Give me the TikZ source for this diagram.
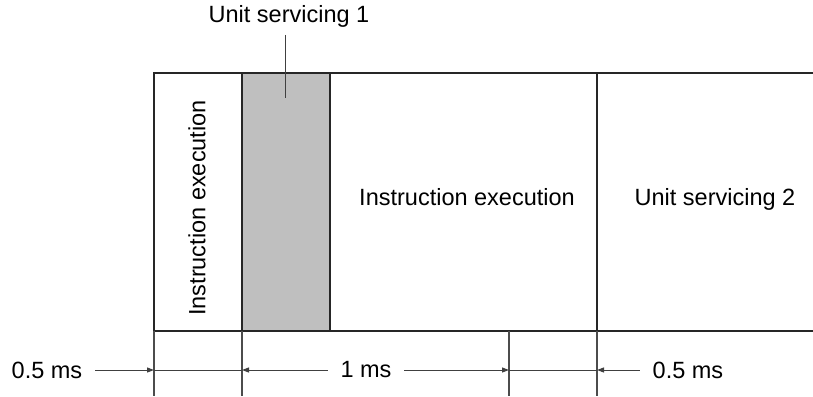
\documentclass[tikz,border=0pt]{standalone}
\usepackage{fontspec}
\setmainfont{Liberation Sans}
\usetikzlibrary{arrows.meta, positioning}

\begin{document}
\begin{tikzpicture}[x=1pt, y=-1pt, >={Triangle[length=7pt,width=5pt]}, line width=1.5pt]

\tikzstyle{frame} = [draw=black!85, line width=1.6pt]
\tikzstyle{extline} = [draw=black!70, line width=1.3pt]
\tikzstyle{dimline} = [draw=black!75, line width=1pt]
\tikzstyle{txt} = [inner sep=0pt, font=\fontsize{23.5}{28}\selectfont]
\tikzstyle{dimlabel} = [txt, outer xsep=13pt]

\useasboundingbox (0,0) rectangle (813,396);

\fill[gray!50] (242,73) rectangle (330,331);
\draw[frame] (813,73) -- (154,73) -- (154,331) -- (813,331);
\draw[frame] (242,73) -- (242,331);
\draw[frame] (330,73) -- (330,331);
\draw[frame] (597,73) -- (597,331);

\coordinate (t0) at (154,370);
\coordinate (t1) at (242,370);
\coordinate (t2) at (509,370);
\coordinate (t3) at (597,370);
\foreach \x in {154,242,509,597}
  \draw[extline] (\x,331) -- (\x,396);

\node (exec1) [txt, rotate=90] at (197,208) {Instruction execution};
\node (exec2) [txt, anchor=base] at (467,205) {Instruction execution};
\node (serv2) [txt, anchor=base] at (715,205) {Unit servicing 2};
\node (serv1) [txt, anchor=base] at (289,23) {Unit servicing 1};
\coordinate (lead) at (285,98);
\draw[dimline] (285,35) -- (lead);

\node (half1) [dimlabel] at (47,370) {0.5 ms};
\node (full) [dimlabel] at (366,370) {1 ms};
\node (half2) [dimlabel] at (688,370) {0.5 ms};

\draw[dimline, ->] (half1) -- (t0);
\draw[dimline] (t0) -- (t1);
\draw[dimline, ->] (full) -- (t1);
\draw[dimline, ->] (full) -- (t2);
\draw[dimline] (t2) -- (t3);
\draw[dimline, ->] (half2) -- (t3);

\end{tikzpicture}
\end{document}
